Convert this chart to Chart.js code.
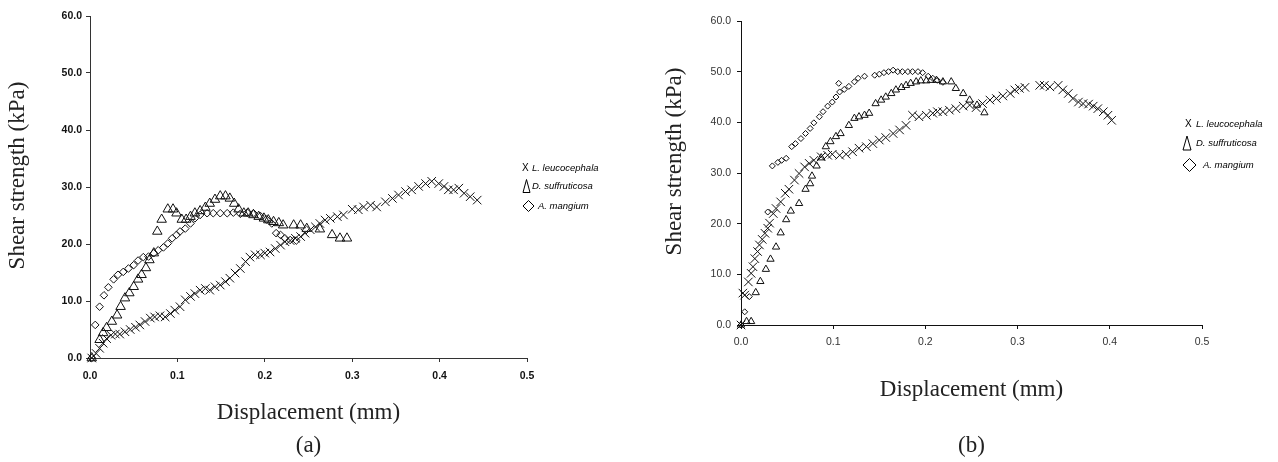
<!DOCTYPE html>
<html>
<head>
<meta charset="utf-8">
<script src="https://cdn.jsdelivr.net/npm/chart.js@4.4.0/dist/chart.umd.min.js"></script>
<style>
  html, body { margin: 0; padding: 0; background: #fff; }
  #wrap { position: relative; width: 1278px; height: 462px; overflow: hidden; }
  canvas { position: absolute; top: 0; }
  #chartA { left: 0; }
  #chartB { left: 640px; }
</style>
</head>
<body>
<div id="wrap">
  <canvas id="chartA" width="640" height="462"></canvas>
  <canvas id="chartB" width="638" height="462"></canvas>
</div>
<script>
// Nombres de series y ticks
const seriesNames = ['L. leucocephala', 'D. suffruticosa', 'A. mangium'];
const xTicks = [0, 0.1, 0.2, 0.3, 0.4, 0.5];
const yTicks = [0, 10, 20, 30, 40, 50, 60];

// (a) L. leucocephala
const aLeucX = [0.002,0.007,0.011,0.015,0.019,0.024,0.029,0.034,0.040,0.046,0.052,0.057,0.063,0.069,0.074,0.080,0.086,0.092,0.097,0.103,0.109,0.115,0.120,0.126,0.132,0.137,0.143,0.149,0.155,0.160,0.166,0.172,0.178,0.183,0.189,0.195,0.200,0.206,0.212,0.218,0.223,0.229,0.235,0.241,0.246,0.252,0.258,0.263,0.269,0.275,0.283,0.290,0.300,0.307,0.313,0.321,0.328,0.338,0.346,0.353,0.361,0.368,0.376,0.384,0.391,0.399,0.405,0.410,0.416,0.422,0.428,0.435,0.443];
const aLeucY = [0,0.8,1.7,2.6,3.4,4.0,4.2,4.2,4.6,5.0,5.4,5.8,6.4,7.0,7.2,7.4,7.2,7.8,8.4,9.0,10.2,10.8,11.3,11.9,12.2,11.9,12.5,12.8,13.4,14.0,14.9,15.7,16.9,17.7,18.1,18.1,18.4,18.6,19.2,19.8,20.4,20.6,21.0,21.3,21.9,22.5,23.0,23.6,24.2,24.5,24.8,25.1,26.1,26.0,26.5,26.8,26.5,27.4,28.0,28.6,29.2,29.5,30.1,30.6,31.0,30.6,30.1,29.5,29.5,29.8,28.9,28.3,27.7];
// (a) D. suffruticosa
const aSuffX = [0.002,0.011,0.015,0.019,0.025,0.031,0.035,0.040,0.045,0.050,0.055,0.059,0.064,0.068,0.073,0.077,0.082,0.089,0.095,0.099,0.105,0.110,0.115,0.120,0.126,0.132,0.137,0.143,0.149,0.155,0.160,0.165,0.170,0.176,0.181,0.187,0.193,0.199,0.204,0.210,0.216,0.221,0.233,0.241,0.248,0.263,0.277,0.286,0.294];
const aSuffY = [0,3.2,4.4,5.3,6.4,7.5,9.0,10.5,11.4,12.5,13.8,14.6,15.8,17.2,18.4,22.2,24.3,26.1,26.1,25.4,24.3,24.3,24.8,25.4,25.8,26.4,27.1,27.8,28.4,28.4,28.0,27.1,26.1,25.4,25.4,25.1,24.8,24.5,24.2,23.9,23.7,23.3,23.3,23.3,22.7,22.6,21.6,21.0,21.0];
// (a) A. mangium
const aMangX = [0.002,0.006,0.011,0.016,0.021,0.027,0.032,0.038,0.044,0.050,0.055,0.061,0.067,0.073,0.078,0.084,0.089,0.094,0.099,0.103,0.109,0.115,0.120,0.126,0.134,0.141,0.149,0.157,0.164,0.172,0.180,0.187,0.195,0.202,0.208,0.213,0.218,0.223,0.229,0.236];
const aMangY = [0,5.8,9.0,11.0,12.4,13.8,14.6,15.1,15.7,16.3,17.1,17.7,17.8,18.4,18.9,19.4,20.1,21.0,21.6,22.2,22.7,23.6,24.5,25.1,25.4,25.4,25.4,25.4,25.5,25.3,25.5,25.4,24.9,24.3,23.6,21.9,21.6,21.0,20.7,20.6];

// (b) L. leucocephala
const bLeucX = [0,0.002,0.004,0.008,0.011,0.013,0.015,0.018,0.020,0.023,0.026,0.029,0.031,0.035,0.038,0.043,0.048,0.052,0.058,0.063,0.069,0.074,0.079,0.087,0.094,0.099,0.107,0.114,0.121,0.128,0.136,0.143,0.150,0.157,0.165,0.172,0.179,0.186,0.193,0.201,0.208,0.213,0.219,0.226,0.233,0.241,0.248,0.255,0.262,0.270,0.277,0.284,0.292,0.297,0.302,0.308,0.324,0.329,0.335,0.344,0.349,0.355,0.360,0.366,0.371,0.377,0.382,0.387,0.393,0.398,0.402];
const bLeucY = [0,6.3,5.9,8.5,10.2,11.5,13.1,14.5,15.8,16.9,18.1,19.1,20.1,22.0,23.0,24.3,26.0,26.8,28.6,29.9,31.2,31.9,32.5,33.2,33.5,33.7,33.5,33.7,34.2,34.9,35.2,35.8,36.5,37.0,37.8,38.5,39.4,41.4,41.1,41.4,41.8,42.1,42.1,42.4,42.7,43.2,43.4,42.9,43.7,44.4,44.7,45.2,45.7,46.4,46.7,46.9,47.3,47.3,47.0,47.3,46.4,45.7,44.7,44.0,43.7,43.6,43.2,42.7,42.1,41.4,40.4];
// (b) D. suffruticosa
const bSuffX = [0,0.006,0.011,0.016,0.021,0.027,0.032,0.038,0.043,0.049,0.054,0.063,0.070,0.075,0.077,0.082,0.087,0.092,0.097,0.103,0.108,0.117,0.123,0.128,0.134,0.139,0.146,0.152,0.157,0.163,0.168,0.174,0.179,0.184,0.190,0.195,0.201,0.206,0.212,0.219,0.228,0.233,0.241,0.248,0.256,0.264];
const bSuffY = [0,0.7,0.7,6.4,8.6,11.0,13.0,15.4,18.2,20.8,22.5,24.0,26.8,27.9,29.4,31.4,33.0,35.2,36.2,37.2,37.8,39.4,40.8,41.1,41.4,41.8,43.7,44.4,45.0,45.7,46.4,46.9,47.3,47.7,48.0,48.2,48.2,48.3,48.3,48.0,48.0,46.7,45.7,44.4,43.4,41.9];
// (b) A. mangium
const bMangX = [0,0.004,0.009,0.029,0.034,0.040,0.044,0.049,0.055,0.059,0.065,0.070,0.075,0.079,0.085,0.089,0.094,0.099,0.103,0.106,0.107,0.112,0.117,0.123,0.127,0.134,0.145,0.150,0.155,0.160,0.165,0.170,0.175,0.181,0.186,0.192,0.197,0.203,0.208,0.213,0.219];
const bMangY = [0,2.6,5.6,22.3,31.4,32.1,32.5,32.9,35.2,35.8,36.8,37.8,38.8,39.9,41.1,42.1,43.2,44.0,45.0,47.7,46.0,46.5,47.1,48.0,48.7,49.1,49.3,49.5,49.8,50.0,50.3,50.0,50.0,50.0,50.0,50.0,49.8,49.1,48.7,48.3,47.9];

const zip = (xs, ys) => xs.map((x, i) => ({ x: x, y: ys[i] }));

// Leyenda a un lado (marcadores dibujados a mano)
const legendPlugin = {
  id: 'sideLegend',
  afterDraw(chart, args, opts) {
    const ctx = chart.ctx;
    ctx.save();
    ctx.fillStyle = '#000';
    ctx.strokeStyle = '#000';
    ctx.lineWidth = 1;
    ctx.textBaseline = 'middle';
    opts.rows.forEach((r, i) => {
      const y = r.y;
      if (r.mark === 'x') {
        ctx.font = opts.markFont;
        ctx.fillText('X', r.mx, y);
      } else if (r.mark === 'tri') {
        ctx.beginPath();
        ctx.moveTo(r.mx + r.w / 2, y - r.h / 2);
        ctx.lineTo(r.mx + r.w, y + r.h / 2);
        ctx.lineTo(r.mx, y + r.h / 2);
        ctx.closePath();
        ctx.stroke();
      } else {
        ctx.beginPath();
        ctx.moveTo(r.mx + r.w / 2, y - r.h / 2);
        ctx.lineTo(r.mx + r.w, y);
        ctx.lineTo(r.mx + r.w / 2, y + r.h / 2);
        ctx.lineTo(r.mx, y);
        ctx.closePath();
        ctx.stroke();
      }
      ctx.font = opts.font;
      ctx.fillText(seriesNames[i], r.tx, y);
    });
    ctx.restore();
  }
};

function makeSets(leuc, suff, mang, s) {
  return [
    { label: seriesNames[0], data: leuc, showLine: false,
      pointStyle: 'crossRot', pointRadius: s.cross, pointBorderWidth: 1, pointBorderColor: '#111',
      pointBackgroundColor: 'rgba(0,0,0,0)', clip: false },
    { label: seriesNames[1], data: suff, showLine: false, pointStyle: 'triangle', pointRadius: s.tri,
      pointBorderWidth: 1, pointBorderColor: '#111', pointBackgroundColor: 'rgba(0,0,0,0)', clip: false },
    { label: seriesNames[2], data: mang, showLine: false, pointStyle: 'rectRot', pointRadius: s.dia,
      pointBorderWidth: 1, pointBorderColor: '#111', pointBackgroundColor: 'rgba(0,0,0,0)', clip: false }
  ];
}

function buildChart(id, sets, cfg) {
  return new Chart(document.getElementById(id), {
    type: 'scatter',
    data: { datasets: sets },
    options: {
      responsive: false,
      animation: false,
      devicePixelRatio: 1,
      layout: { padding: { top: cfg.top, right: cfg.right, bottom: 0, left: 0 } },
      plugins: { legend: { display: false }, tooltip: { enabled: false }, sideLegend: cfg.legend },
      scales: {
        x: {
          type: 'linear', min: 0, max: 0.5,
          afterBuildTicks: s => { s.ticks = xTicks.map(v => ({ value: v })); },
          afterFit: s => { s.height = cfg.xHeight; },
          border: { display: true, color: cfg.axisColor, width: 1 },
          grid: { drawOnChartArea: false, drawTicks: true, tickLength: 4, color: cfg.axisColor },
          ticks: { padding: cfg.xPad, color: cfg.tickColor, font: cfg.tickFont, maxRotation: 0, autoSkip: false,
                   callback: v => v.toFixed(1) },
          title: { display: true, text: cfg.xTitle, color: '#222',
                   font: { family: 'Liberation Serif', size: 23, lineHeight: cfg.xLine },
                   padding: { top: 0, bottom: cfg.xTitlePad } }
        },
        y: {
          type: 'linear', min: 0, max: 60,
          afterBuildTicks: s => { s.ticks = yTicks.map(v => ({ value: v })); },
          afterFit: s => { s.width = cfg.yWidth; },
          border: { display: true, color: cfg.axisColor, width: 1 },
          grid: { drawOnChartArea: false, drawTicks: true, tickLength: 4, color: cfg.axisColor },
          ticks: { padding: cfg.yPad, color: cfg.tickColor, font: cfg.tickFont, callback: v => v.toFixed(1) },
          title: { display: true, text: '    Shear strength (kPa)', color: '#222',
                   font: { family: 'Liberation Serif', size: 23, lineHeight: 1.2 },
                   padding: { top: cfg.yTitlePad, bottom: 0 } }
        }
      }
    },
    plugins: [legendPlugin]
  });
}

const legendFont = "italic 9.5px 'Liberation Sans Narrow', 'Liberation Sans', Arial, sans-serif";
const markFont = "10px 'Liberation Sans', Arial, sans-serif";

// (a)
buildChart('chartA',
  makeSets(zip(aLeucX, aLeucY), zip(aSuffX, aSuffY), zip(aMangX, aMangY), { cross: 6, tri: 5.5, dia: 3.8 }),
  {
    top: 16, right: 113, yWidth: 90, xHeight: 104,
    axisColor: '#333', tickColor: '#111',
    tickFont: { family: 'Liberation Sans', size: 10.5, weight: 'bold' },
    xPad: 8, yPad: 4, yTitlePad: 4,
    xTitle: ['Displacement (mm)', '(a)'], xLine: 1.435, xTitlePad: 0,
    legend: {
      font: legendFont, markFont: markFont,
      rows: [
        { mark: 'x', y: 168, mx: 522, tx: 532 },
        { mark: 'tri', y: 186, mx: 523, w: 7, h: 13, tx: 532 },
        { mark: 'dia', y: 206, mx: 523, w: 11, h: 11, tx: 538 }
      ]
    }
  });

// (b)
buildChart('chartB',
  makeSets(zip(bLeucX, bLeucY), zip(bSuffX, bSuffY), zip(bMangX, bMangY), { cross: 6, tri: 4.2, dia: 3 }),
  {
    top: 21, right: 76, yWidth: 101, xHeight: 137,
    axisColor: '#111', tickColor: '#333',
    tickFont: { family: 'Liberation Sans', size: 10.5 },
    xPad: 7, yPad: 6, yTitlePad: 21,
    xTitle: ['Displacement (mm)', '', '(b)'], xLine: 1.217, xTitlePad: 2,
    legend: {
      font: legendFont, markFont: markFont,
      rows: [
        { mark: 'x', y: 124, mx: 545, tx: 556 },
        { mark: 'tri', y: 143, mx: 543, w: 8, h: 14, tx: 556 },
        { mark: 'dia', y: 165, mx: 543, w: 13, h: 13, tx: 563 }
      ]
    }
  });
</script>
</body>
</html>
